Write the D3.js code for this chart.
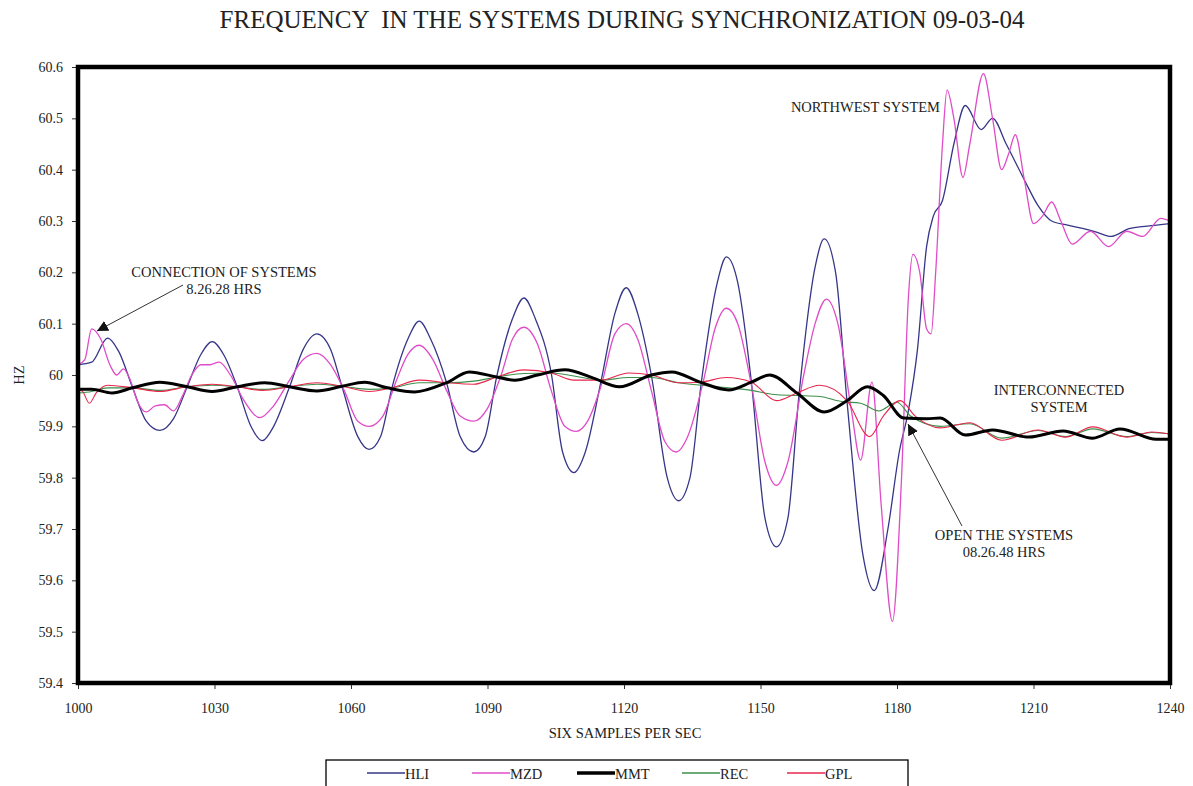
<!DOCTYPE html>
<html lang="en">
<head>
<meta charset="utf-8">
<title>Frequency during synchronization</title>
<script src="https://d3js.org/d3.v7.min.js"></script>
<style>
  body { margin: 0; background: #fff; }
  svg text { font-family: "Liberation Serif", "Times New Roman", Times, "DejaVu Serif", serif; fill: #222; }
</style>
</head>
<body>
<script>
// samples (x) and frequency in Hz (y) at turning points
var hliPts = [[1000,60.02],[1003,60.025],[1006.5,60.072],[1009,60.045],[1012,59.975],[1015,59.91],[1018,59.892],
  [1021,59.915],[1024,59.977],[1027,60.04],[1029.5,60.065],[1032,60.04],[1035,59.977],[1038,59.9],[1040.5,59.872],
  [1043,59.9],[1046.5,59.977],[1049.5,60.05],[1052.5,60.08],[1055.5,60.05],[1058,59.978],[1061.5,59.88],[1064,59.855],
  [1066.5,59.88],[1069,59.975],[1072.5,60.07],[1075,60.105],[1077.5,60.07],[1081,59.985],[1084,59.88],[1087,59.85],
  [1089.5,59.88],[1092,59.996],[1095.5,60.11],[1098,60.15],[1100.5,60.11],[1104,60.004],[1106.5,59.85],[1109,59.81],
  [1111.5,59.85],[1115,59.99],[1118,60.12],[1120.5,60.17],[1123,60.12],[1126,60.0],[1129.5,59.8],[1132,59.755],
  [1134.5,59.8],[1137,59.986],[1140.5,60.18],[1142.5,60.23],[1145,60.18],[1148,59.986],[1151,59.72],[1153.5,59.665],
  [1156,59.72],[1158.5,59.965],[1162,60.21],[1164,60.265],[1166.5,60.2],[1169,59.95],[1172.5,59.65],[1175,59.58],
  [1178,59.7],[1180.5,59.85],[1182.5,59.93],[1184.5,60.05],[1186.5,60.25],[1188,60.31],[1190,60.34],[1192.5,60.45],
  [1195,60.525],[1198.5,60.478],[1201,60.5],[1204,60.45],[1208,60.38],[1211,60.33],[1214,60.3],[1217.5,60.292],
  [1221,60.285],[1224,60.278],[1227,60.27],[1231,60.285],[1235,60.29],[1240,60.295]];

var mzdPts = [[1000,60.02],[1001.5,60.03],[1003,60.09],[1005,60.07],[1007,60.02],[1008.5,60.0],[1010,60.012],
  [1011.5,59.99],[1013,59.95],[1015,59.928],[1017,59.94],[1019,59.942],[1021,59.93],[1023,59.96],[1025,60.0],
  [1027,60.02],[1029,60.02],[1031,60.025],[1033.5,60.0],[1036.5,59.95],[1040,59.917],[1043,59.94],[1046.5,59.99],
  [1049.5,60.03],[1052.5,60.042],[1055.5,60.02],[1058.5,59.97],[1061.5,59.91],[1064,59.9],[1067,59.92],[1070,59.99],
  [1072.5,60.04],[1075,60.058],[1078,60.03],[1081,59.97],[1084,59.92],[1087,59.91],[1090,59.935],[1093,60.0],
  [1095.5,60.07],[1098,60.093],[1101,60.06],[1104,59.97],[1107,59.9],[1109.5,59.89],[1112,59.91],[1115,59.98],
  [1118,60.08],[1120.5,60.1],[1123,60.07],[1126,59.97],[1129,59.87],[1131.5,59.85],[1134,59.88],[1137.5,59.99],
  [1140,60.09],[1142.5,60.13],[1145,60.1],[1148,59.98],[1151,59.83],[1153.5,59.785],[1156,59.83],[1159.5,60.0],
  [1162,60.1],[1164.5,60.148],[1167,60.1],[1170,59.93],[1172,59.834],[1174.5,59.986],[1176.5,59.75],[1179,59.52],
  [1181,59.8],[1182.5,60.15],[1183.5,60.235],[1185,60.2],[1186.5,60.09],[1187.5,60.08],[1188.5,60.2],[1190,60.45],
  [1191,60.555],[1192.5,60.5],[1194.5,60.385],[1196,60.45],[1199,60.587],[1201,60.5],[1203,60.4],[1204.5,60.43],
  [1206,60.468],[1208,60.38],[1210,60.295],[1212,60.31],[1214,60.337],[1216,60.3],[1218.5,60.255],[1222.5,60.28],
  [1226.5,60.25],[1230.5,60.28],[1234,60.27],[1238,60.305],[1240,60.3]];

var mmtPts = [[1000,59.972],[1003,59.972],[1007.5,59.965],[1012,59.975],[1018,59.986],[1024,59.977],[1029.5,59.968],
  [1035,59.977],[1041,59.985],[1046.5,59.977],[1052.5,59.969],[1058,59.978],[1063,59.986],[1068,59.975],[1074,59.967],
  [1081,59.985],[1086,60.006],[1092,59.996],[1096,59.99],[1101,60.0],[1107,60.01],[1113,59.995],[1119,59.977],
  [1126,60.0],[1130.5,60.006],[1136.7,59.986],[1143,59.971],[1148,59.986],[1152,60.0],[1158,59.965],[1164,59.928],
  [1169,59.95],[1173.5,59.977],[1177,59.96],[1181.5,59.916],[1186.5,59.915],[1189.5,59.916],[1195,59.883],
  [1201,59.893],[1209,59.879],[1216.5,59.891],[1223,59.877],[1229,59.895],[1237,59.875],[1240,59.875]];

var recPts = [[1000,59.965],[1003,59.968],[1006.5,59.975],[1012,59.975],[1018,59.97],[1024,59.977],[1029.5,59.98],
  [1035,59.977],[1040.5,59.972],[1046.5,59.977],[1052.5,59.982],[1058,59.978],[1064,59.972],[1069,59.975],
  [1075,59.985],[1081,59.985],[1087,59.988],[1092,59.996],[1098,60.003],[1104,60.004],[1109,59.998],[1115,59.99],
  [1121,59.995],[1126,59.995],[1132,59.985],[1137,59.98],[1143,59.975],[1148,59.97],[1153,59.962],[1158,59.96],
  [1163,59.958],[1168,59.948],[1172,59.945],[1176,59.93],[1180,59.947],[1183,59.92],[1189.5,59.9],[1196,59.905],
  [1203,59.877],[1211,59.892],[1217,59.88],[1223,59.895],[1230.5,59.88],[1236,59.888],[1240,59.885]];

var gplPts = [[1000,59.972],[1001,59.968],[1002.5,59.945],[1004,59.965],[1006.5,59.98],[1012,59.975],[1018,59.968],
  [1024,59.977],[1029.5,59.982],[1035,59.977],[1040.5,59.97],[1046.5,59.977],[1052.5,59.985],[1058,59.978],
  [1064,59.968],[1069,59.975],[1075,59.99],[1081,59.985],[1087,59.982],[1092,59.996],[1098,60.01],[1104,60.004],
  [1109,59.99],[1115,59.99],[1121,60.004],[1126,60.0],[1132,59.985],[1136.7,59.986],[1142.5,59.995],[1148,59.986],
  [1153.5,59.95],[1158,59.965],[1163,59.98],[1169,59.95],[1174,59.88],[1177,59.92],[1180.7,59.95],[1184,59.92],
  [1189.5,59.897],[1196,59.907],[1203,59.873],[1211,59.893],[1217,59.879],[1223,59.899],[1230.5,59.879],
  [1236,59.889],[1240,59.885]];

var seriesNames = ["HLI", "MZD", "MMT", "REC", "GPL"];
var seriesPts = [hliPts, mzdPts, mmtPts, recPts, gplPts];
var seriesColors = ["#363688", "#e04cc8", "#000000", "#3d8f4a", "#e8264e"];
var seriesWidths = [1.3, 1.3, 3, 1.1, 1.1];
var xTicks = [1000, 1030, 1060, 1090, 1120, 1150, 1180, 1210, 1240];
var yTicks = [59.4, 59.5, 59.6, 59.7, 59.8, 59.9, 60, 60.1, 60.2, 60.3, 60.4, 60.5, 60.6];

var W = 1193, H = 786;
// plot box (avoid "top", it is window.top)
var pL = 78, pR = 1170, pT = 67, pB = 683;
var serif = "'Liberation Serif', 'Times New Roman', Times, 'DejaVu Serif', serif";

var svg = d3.select("body").append("svg")
  .attr("width", W).attr("height", H);

var x = d3.scaleLinear().domain([1000, 1240]).range([pL, pR]);
var y = d3.scaleLinear().domain([59.4, 60.6]).range([pB, pT]);

// title
svg.append("text")
  .attr("x", 622).attr("y", 28)
  .attr("text-anchor", "middle")
  .attr("font-size", "25px")
  .style("white-space", "pre")
  .text("FREQUENCY  IN THE SYSTEMS DURING SYNCHRONIZATION 09-03-04");

// axes
var gx = svg.append("g").attr("transform", "translate(0," + pB + ")")
  .call(d3.axisBottom(x).tickValues(xTicks).tickSize(6).tickPadding(14).tickFormat(d3.format("d")));
var gy = svg.append("g").attr("transform", "translate(" + pL + ",0)")
  .call(d3.axisLeft(y).tickValues(yTicks).tickSize(6).tickPadding(9)
    .tickFormat(function(d) { return d3.format(".1f")(d).replace(".0", ""); }));
[gx, gy].forEach(function(g) {
  g.attr("font-family", serif);
  g.select(".domain").remove();
  g.selectAll(".tick line").attr("stroke", "#333");
  g.selectAll(".tick text").attr("font-size", "14px").attr("fill", "#222")
    .style("font-family", serif);
});

svg.append("text")
  .attr("transform", "translate(24,375) rotate(-90)")
  .attr("text-anchor", "middle").attr("font-size", "14.5px").text("HZ");
svg.append("text")
  .attr("x", 625).attr("y", 738).attr("text-anchor", "middle")
  .attr("font-size", "14.5px").text("SIX SAMPLES PER SEC");

// lines
svg.append("clipPath").attr("id", "clip").append("rect")
  .attr("x", pL).attr("y", pT).attr("width", pR - pL).attr("height", pB - pT);

var line = d3.line()
  .x(function(d) { return x(d[0]); })
  .y(function(d) { return y(d[1]); })
  .curve(d3.curveMonotoneX);

var order = [0, 1, 3, 4, 2];
order.forEach(function(i) {
  svg.append("path")
    .attr("clip-path", "url(#clip)")
    .attr("d", line(seriesPts[i]))
    .attr("fill", "none")
    .attr("stroke", seriesColors[i])
    .attr("stroke-width", seriesWidths[i])
    .attr("stroke-linejoin", "round");
});

// frame
svg.append("rect")
  .attr("x", pL).attr("y", pT)
  .attr("width", pR - pL).attr("height", pB - pT)
  .attr("fill", "none").attr("stroke", "#000").attr("stroke-width", 4.5);

// annotations
svg.append("defs").append("marker")
  .attr("id", "arrow").attr("viewBox", "0 0 10 10")
  .attr("refX", 10).attr("refY", 5)
  .attr("markerWidth", 11).attr("markerHeight", 11)
  .attr("markerUnits", "userSpaceOnUse")
  .attr("orient", "auto")
  .append("path").attr("d", "M0,0 L10,5 L0,10 z").attr("fill", "#111");

function note(lines, cx, cy) {
  lines.forEach(function(t, k) {
    svg.append("text").attr("x", cx).attr("y", cy + k * 17)
      .attr("text-anchor", "middle").attr("font-size", "14.5px").text(t);
  });
}
note(["CONNECTION OF SYSTEMS", "8.26.28 HRS"], 224, 277);
svg.append("line")
  .attr("x1", 183).attr("y1", 285).attr("x2", 97).attr("y2", 331)
  .attr("stroke", "#333").attr("stroke-width", 1).attr("marker-end", "url(#arrow)");

svg.append("text").attr("x", 940).attr("y", 112).attr("text-anchor", "end")
  .attr("font-size", "14.5px").text("NORTHWEST SYSTEM");

note(["INTERCONNECTED", "SYSTEM"], 1059, 395);

note(["OPEN THE SYSTEMS", "08.26.48 HRS"], 1004, 540);
svg.append("line")
  .attr("x1", 962).attr("y1", 526).attr("x2", 908).attr("y2", 424)
  .attr("stroke", "#333").attr("stroke-width", 1).attr("marker-end", "url(#arrow)");

// legend
var lg = svg.append("g");
lg.append("rect").attr("x", 326).attr("y", 760).attr("width", 582).attr("height", 40)
  .attr("fill", "#fff").attr("stroke", "#000").attr("stroke-width", 1.3);
var legX = d3.scalePoint().domain(seriesNames).range([367, 787]);
seriesNames.forEach(function(name, i) {
  var lx = legX(name);
  lg.append("line").attr("x1", lx).attr("x2", lx + 38).attr("y1", 773).attr("y2", 773)
    .attr("stroke", seriesColors[i]).attr("stroke-width", seriesWidths[i] + 0.3);
  lg.append("text").attr("x", lx + 38).attr("y", 779).attr("font-size", "14.5px").text(name);
});
</script>
</body>
</html>
